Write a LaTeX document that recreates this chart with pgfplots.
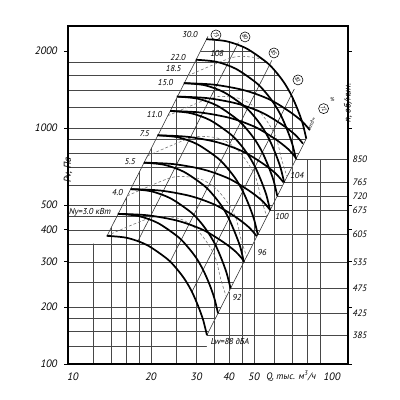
\documentclass[border=0pt]{standalone}
\usepackage{fontspec}
\setmainfont{PT Sans}
\usepackage{pgfplots}
\pgfplotsset{compat=1.18}
\begin{document}
\begin{tikzpicture}[font=\fontsize{7}{8}\selectfont\itshape,
  lab/.style={font=\fontsize{6}{7}\selectfont\itshape, inner sep=0.5pt},
  circ/.style={circle,draw,line width=0.4pt,minimum size=7pt,inner sep=0pt,font=\fontsize{4}{4}\selectfont\itshape},
  rpm/.style={anchor=west,inner sep=0.5pt,font=\fontsize{6.5}{7}\selectfont\itshape,xshift=2.5pt}]
\useasboundingbox (-47.6pt,-25.2pt) rectangle (232.4pt,254.8pt);
\begin{axis}[
  at={(0,0)}, anchor=south west, scale only axis, width=196pt, height=236.6pt,
  xmode=log, ymode=log, xmin=9.566, xmax=115.3, ymin=119.7, ymax=2502,
  axis on top, clip mode=individual,
  axis line style={line width=0.8pt},
  xtick={10,20,30,40,50,100}, xticklabels={10,20,30,40,50,100},
  ytick={119.7,200,300,400,500,1000,2000}, yticklabels={100,200,300,400,500,1000,2000},
  minor tick style={draw=none}, xtick style={draw=none},
  ytick style={line width=0.5pt,black}, tick align=outside, major tick length=2.5pt,
  ticklabel style={font=\fontsize{7.5}{8}\selectfont\itshape},
  yticklabel style={xshift=-1.5pt},
  /pgf/number format/assume math mode=true,
  gl/.style={black!72, line width=0.35pt},
  fan/.style={black, line width=1.2pt, smooth},
  nz/.style={black!55, line width=0.4pt, dash pattern=on 2pt off 1.4pt, smooth},
  eff/.style={black!80, line width=0.4pt},
]
% ---------- full grid ----------
\pgfplotsinvokeforeach{12,14,16,18,20,25,30,35,40,45,50,60,70,80,90}{
  \addplot[gl] coordinates {(#1,119.7) (#1,2502)};}
\pgfplotsinvokeforeach{140,160,180,200,250,300,350,400,450,500,600,700,800,900,1000,1200,1400,1600,1800,2000}{
  \addplot[gl] coordinates {(9.566,#1) (115.3,#1)};}
% ---------- white-outs ----------
\addplot[fill=white,draw=none] coordinates {(9.566,353) (13.53,353) (13.53,378.6) (34.77,2502) (9.566,2502)} -- cycle;
\addplot[fill=white,draw=none] coordinates {(34.77,2502) (32.7,2215) (39.2,2176) (46.7,2041) (55.9,1801) (61.0,1643) (65.6,1490) (69.7,1338) (73.6,1180) (77.0,1040) (79.6,906) (72.6,756) (115.3,756) (115.3,2502)} -- cycle;
\addplot[fill=white,draw=none] coordinates {(72.6,756) (32.91,155.4) (32.91,119.7) (115.3,119.7) (115.3,756)} -- cycle;
% ---------- upper-left horizontals ----------
\addplot[gl] coordinates {(9.566,400) (13.91,400)};
\addplot[gl] coordinates {(9.566,450) (14.75,450)};
\addplot[gl] coordinates {(9.566,500) (15.55,500)};
\addplot[gl] coordinates {(9.566,600) (17.03,600)};
\addplot[gl] coordinates {(9.566,700) (18.40,700)};
\addplot[gl] coordinates {(9.566,800) (19.67,800)};
\addplot[gl] coordinates {(9.566,900) (20.86,900)};
\addplot[gl] coordinates {(9.566,1000) (21.99,1000)};
\addplot[gl] coordinates {(9.566,1200) (24.09,1200)};
\addplot[gl] coordinates {(9.566,1400) (26.02,1400)};
\addplot[gl] coordinates {(9.566,1600) (27.82,1600)};
\addplot[gl] coordinates {(9.566,1800) (29.50,1800)};
% ---------- right region verticals ----------
\addplot[gl] coordinates {(35,119.7) (35,175.8)};
\addplot[gl] coordinates {(40,119.7) (40,229.6)};
\addplot[gl] coordinates {(45,119.7) (45,290.6)};
\addplot[gl] coordinates {(50,119.7) (50,358.8)};
\addplot[gl] coordinates {(60,119.7) (60,516.6)};
\addplot[gl] coordinates {(70,119.7) (70,703.2)};
\addplot[gl] coordinates {(80,119.7) (80,756)};
\addplot[gl] coordinates {(90,119.7) (90,756)};
% ---------- rpm lines ----------
\addplot[gl] coordinates {(32.9,155) (115.3,155)};
\addplot[gl] coordinates {(36.3,189) (115.3,189)};
\addplot[gl] coordinates {(40.6,236) (115.3,236)};
\addplot[gl] coordinates {(45.7,299) (115.3,299)};
\addplot[gl] coordinates {(51.7,383) (115.3,383)};
\addplot[gl] coordinates {(57.7,476) (115.3,476)};
\addplot[gl] coordinates {(61.5,542) (115.3,542)};
\addplot[gl] coordinates {(65.4,612) (115.3,612)};
\addplot[gl] coordinates {(72.6,756) (115.3,756)};
% ---------- boundaries and efficiency lines ----------
\addplot[eff] coordinates {(13.53,378.6) (33.2,2279)};
\addplot[eff] coordinates {(32.91,155.4) (79.6,908)};
\addplot[eff] coordinates {(17.8,361) (43.5,2157)};
\addplot[eff] coordinates {(23.7,300) (58.6,1837)};
\addplot[eff] coordinates {(28.8,229) (71.5,1418)};
% ---------- noise (dashed) ----------
\addplot[nz] coordinates {(13.5,379) (19.8,445) (23.7,449) (26.6,437) (29.6,407) (31.8,375) (33.8,343) (35.4,313) (36.3,286) (37.0,262) (38.0,239) (39.0,221)};
\addplot[nz] coordinates {(16.2,543) (23.7,638) (28.4,643) (31.8,626) (35.4,583) (38.1,537) (40.5,492) (42.4,449) (43.5,410) (44.3,375) (45.5,343) (46.7,317)};
\addplot[nz] coordinates {(19.4,778) (28.4,914) (34.0,922) (38.1,897) (42.4,836) (45.6,770) (48.4,704) (50.7,643) (52.0,587) (53.0,538) (54.5,491) (55.9,454)};
\addplot[nz] coordinates {(23.2,1115) (34.0,1310) (40.7,1321) (45.6,1286) (50.8,1198) (54.6,1104) (58.0,1009) (60.7,921) (62.3,842) (63.5,771) (65.2,704) (66.9,650)};
\addplot[nz] coordinates {(27.7,1598) (40.7,1877) (48.7,1893) (54.6,1843)};
% ---------- fan curves (S family) ----------
\addplot[fan] coordinates {(13.5,379)(16.2,372)(19.3,349)(23.1,308)(25.2,281)(27.1,255)(28.8,229)(30.4,202)(31.8,178)(32.9,155)};
\addplot[fan] coordinates {(14.9,462)(17.9,453)(21.3,425)(25.5,375)(27.8,342)(29.9,311)(31.8,279)(33.6,246)(35.1,217)(36.3,189)};
\addplot[fan] coordinates {(16.7,577)(20.0,566)(23.8,531)(28.5,469)(31.1,428)(33.4,388)(35.5,349)(37.5,307)(39.2,271)(40.6,236)};
\addplot[fan] coordinates {(18.8,732)(22.5,718)(26.8,674)(32.1,595)(35.0,543)(37.7,492)(40.0,442)(42.2,390)(44.2,344)(45.7,299)};
\addplot[fan] coordinates {(21.2,936)(25.5,919)(30.3,862)(36.3,761)(39.6,694)(42.6,630)(45.3,565)(47.8,499)(50.0,440)(51.7,383)};
\addplot[fan] coordinates {(23.7,1165)(28.4,1143)(33.8,1073)(40.5,947)(44.2,864)(47.5,784)(50.5,704)(53.3,621)(55.8,547)(57.7,476)};
\addplot[fan] coordinates {(25.2,1326)(30.3,1301)(36.1,1221)(43.2,1077)(47.1,983)(50.7,892)(53.9,801)(56.9,706)(59.5,623)(61.5,542)};
\addplot[fan] coordinates {(26.8,1496)(32.2,1469)(38.3,1378)(45.9,1216)(50.1,1109)(53.8,1007)(57.2,904)(60.4,798)(63.2,703)(65.4,612)};
\addplot[fan] coordinates {(29.8,1847)(35.8,1813)(42.6,1701)(51.0,1501)(55.6,1370)(59.8,1243)(63.6,1116)(67.1,985)(70.2,868)(72.6,756)};
\addplot[fan] coordinates {(32.7,2221)(39.2,2180)(46.7,2045)(55.9,1805)(61.0,1647)(65.6,1494)(69.7,1342)(73.6,1184)(77.0,1043)(79.6,908)};
% ---------- fan curves (F family) ----------
\addplot[fan] coordinates {(14.9,462)(19.46,455.8)(25.40,433.8)(31.72,400.1)(37.89,359.3)(42.54,328.3)(45.67,302.7)};
\addplot[fan] coordinates {(16.7,577)(21.81,569.3)(28.47,541.8)(35.55,499.7)(42.47,448.7)(47.68,410.0)(51.19,378.0)};
\addplot[fan] coordinates {(18.8,732)(24.55,722.2)(32.05,687.3)(40.03,633.9)(47.81,569.2)(53.67,520.1)(57.62,479.5)};
\addplot[fan] coordinates {(21.2,936)(27.69,923.5)(36.15,878.9)(45.13,810.6)(53.91,727.8)(60.53,665.0)(64.98,613.2)};
\addplot[fan] coordinates {(23.7,1165)(30.95,1149.4)(40.41,1093.9)(50.46,1008.9)(60.27,905.9)(67.66,827.7)(72.64,763.2)};
\addplot[fan] coordinates {(25.2,1326)(32.91,1308.2)(42.97,1245.1)(53.65,1148.3)(64.08,1031.1)(71.95,942.1)(77.24,868.7)};
\addplot[fan] coordinates {(26.8,1496)(35.0,1476)(45.69,1404.7)(57.06,1295.5)(68.15,1163.3)(76.51,1062.9)(82.14,980.0)};
% ---------- labels ----------
\node[lab] at (axis cs:28.29,2308) {30.0};
\node[lab] at (axis cs:25.43,1893) {22.0};
\node[lab] at (axis cs:24.43,1700) {18.5};
\node[lab] at (axis cs:22.76,1499) {15.0};
\node[lab] at (axis cs:20.64,1124) {11.0};
\node[lab] at (axis cs:18.88,947) {7.5};
\node[lab] at (axis cs:16.6,737) {5.5};
\node[lab] at (axis cs:14.85,562) {4.0};
\node[lab] at (axis cs:11.63,470) {Ny=3.0 кВт};
\node[lab] at (axis cs:35.97,1946) {108};
\node[lab] at (axis cs:73.3,655) {104};
\node[lab] at (axis cs:64.1,453) {100};
\node[lab] at (axis cs:53.7,325) {96};
\node[lab] at (axis cs:42.97,217) {92};
\node[lab] at (axis cs:40.4,146) {Lw=88 дБА};
\node[circ] at (axis cs:35.65,2308) {\rotatebox{-60}{73}};
\node[circ] at (axis cs:46.15,2267) {\rotatebox{-60}{80}};
\node[circ] at (axis cs:59.7,1963) {\rotatebox{-60}{85}};
\node[circ] at (axis cs:73.9,1540) {\rotatebox{-60}{81}};
\node[circ] at (axis cs:92.8,1190) {\rotatebox{-60}{72}};
\node[lab,font=\fontsize{4}{4}\selectfont\itshape] at (axis cs:100.5,1290) {\%};
\node[lab,rotate=63,font=\fontsize{4}{4}\selectfont\itshape] at (axis cs:83.3,1040) {кпд=};
\node[rpm] at (axis cs:115.3,756) {850};
\node[rpm] at (axis cs:115.3,612) {765};
\node[rpm] at (axis cs:115.3,542) {720};
\node[rpm] at (axis cs:115.3,476) {675};
\node[rpm] at (axis cs:115.3,383) {605};
\node[rpm] at (axis cs:115.3,299) {535};
\node[rpm] at (axis cs:115.3,236) {475};
\node[rpm] at (axis cs:115.3,189) {425};
\node[rpm] at (axis cs:115.3,155) {385};
\node[lab,rotate=90,font=\fontsize{6.5}{7}\selectfont\itshape,xshift=10.5pt] at (axis cs:115.3,1094) {n, об/мин.};
\node[lab,rotate=90,font=\fontsize{7}{8}\selectfont\itshape,xshift=-7pt] at (axis cs:9.566,750) {Pv, Па};
\node[lab,anchor=north,font=\fontsize{6.5}{7}\selectfont\itshape,yshift=-4.2pt] at (axis cs:69.5,119.7) {Q, тыс. м\textsuperscript{3}/ч};
\end{axis}
\end{tikzpicture}
\end{document}
